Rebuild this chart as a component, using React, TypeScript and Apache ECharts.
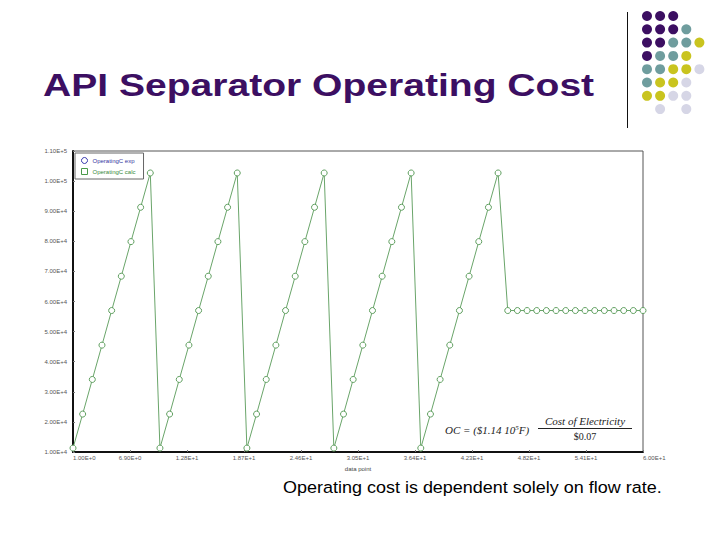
import React, { useEffect, useRef } from "react";
import * as echarts from "echarts";

const TITLE = "API Separator Operating Cost";
const CAPTION = "Operating cost is dependent solely on flow rate.";
const SERIES_EXP = "OperatingC exp";
const SERIES_CALC = "OperatingC calc";

// data point numbers 1..60
const DATA_POINTS = [
  1, 2, 3, 4, 5, 6, 7, 8, 9, 10, 11, 12, 13, 14, 15, 16, 17, 18, 19, 20,
  21, 22, 23, 24, 25, 26, 27, 28, 29, 30, 31, 32, 33, 34, 35, 36, 37, 38, 39, 40,
  41, 42, 43, 44, 45, 46, 47, 48, 49, 50, 51, 52, 53, 54, 55, 56, 57, 58, 59, 60,
];

// Operating cost (calc)
const COST_CALC = [
  11300, 22600, 34100, 45500, 57000, 68400, 79900, 91300, 102700,
  11300, 22600, 34100, 45500, 57000, 68400, 79900, 91300, 102700,
  11300, 22600, 34100, 45500, 57000, 68400, 79900, 91300, 102700,
  11300, 22600, 34100, 45500, 57000, 68400, 79900, 91300, 102700,
  11300, 22600, 34100, 45500, 57000, 68400, 79900, 91300, 102700,
  57000, 57000, 57000, 57000, 57000, 57000, 57000, 57000, 57000, 57000,
  57000, 57000, 57000, 57000, 57000,
];

// experimental series: no visible points in the picture
const COST_EXP: number[] = [];

const X_TICKS = [1, 6.9, 12.8, 18.7, 24.6, 30.5, 36.4, 42.3, 48.2, 54.1, 60];
const Y_MIN = 10000;
const Y_MAX = 110000;
const Y_STEP = 10000;

const PURPLE = "#3c0f62";
const TEAL = "#6f9d9e";
const YELLOW = "#c9c41f";
const LAV = "#d6d6e6";

// decorative dot pattern (rows of colours)
const DOT_ROWS: (string | null)[][] = [
  [PURPLE, PURPLE, PURPLE, null, null],
  [PURPLE, PURPLE, PURPLE, TEAL, null],
  [PURPLE, PURPLE, TEAL, TEAL, YELLOW],
  [PURPLE, TEAL, TEAL, YELLOW, null],
  [TEAL, TEAL, YELLOW, YELLOW, LAV],
  [TEAL, YELLOW, YELLOW, LAV, null],
  [YELLOW, YELLOW, LAV, LAV, null],
  [null, LAV, null, LAV, null],
];

const fmt = (v: number) => v.toExponential(2).toUpperCase();

export default function App() {
  const ref = useRef<HTMLDivElement>(null);

  useEffect(() => {
    if (!ref.current) return;
    const chart = echarts.init(ref.current, null, { renderer: "svg" });

    const dots: any[] = [];
    DOT_ROWS.forEach((row, r) =>
      row.forEach((c, k) => {
        if (!c) return;
        dots.push({
          type: "circle",
          shape: { cx: 647 + k * 13.1, cy: 16 + r * 13.3, r: 5 },
          style: { fill: c },
          silent: true,
        });
      })
    );

    const serif = "'Liberation Serif', 'DejaVu Serif', serif";

    chart.setOption({
      animation: false,
      backgroundColor: "#ffffff",
      grid: {
        left: 73,
        right: 77,
        top: 151,
        bottom: 88,
        show: true,
        borderColor: "#555",
        borderWidth: 1,
        backgroundColor: "transparent",
      },
      legend: {
        orient: "vertical",
        left: 75,
        top: 153,
        padding: [4, 8, 4, 6],
        borderColor: "#666",
        borderWidth: 1,
        itemWidth: 6,
        itemHeight: 6,
        itemGap: 4,
        textStyle: { fontSize: 6, fontFamily: "Arial, 'Liberation Sans', sans-serif" },
        data: [
          {
            name: SERIES_EXP,
            icon: "circle",
            itemStyle: { color: "#fff", borderColor: "#3b3bb0", borderWidth: 1 },
            textStyle: { color: "#3535a0" },
          },
          {
            name: SERIES_CALC,
            icon: "rect",
            itemStyle: { color: "#fff", borderColor: "#4a9a4a", borderWidth: 1 },
            textStyle: { color: "#3a8a3a" },
          },
        ],
      },
      xAxis: {
        type: "value",
        min: 1,
        max: 60,
        name: "data point",
        nameLocation: "middle",
        nameGap: 9,
        nameTextStyle: { fontSize: 6, color: "#444", padding: [0, 0, 0, 0] },
        axisLine: { show: true, lineStyle: { color: "#111", width: 2 } },
        axisTick: {
          show: true,
          inside: true,
          length: 2,
          customValues: X_TICKS,
          lineStyle: { color: "#777" },
        },
        axisLabel: {
          customValues: X_TICKS,
          formatter: (v: number) => fmt(v),
          fontSize: 6,
          color: "#555",
          margin: 3,
          alignMinLabel: "left",
          alignMaxLabel: "left",
        },
        splitLine: { show: false },
      },
      yAxis: {
        type: "value",
        min: Y_MIN,
        max: Y_MAX,
        interval: Y_STEP,
        axisLine: { show: true, lineStyle: { color: "#111", width: 2 } },
        axisTick: { show: true, inside: true, length: 2, lineStyle: { color: "#777" } },
        axisLabel: {
          formatter: (v: number) => fmt(v),
          fontSize: 6,
          color: "#555",
          margin: 6,
        },
        splitLine: { show: false },
      },
      series: [
        {
          name: SERIES_EXP,
          type: "line",
          data: COST_EXP,
          symbol: "emptyCircle",
          itemStyle: { color: "#3b3bb0" },
          lineStyle: { width: 0 },
        },
        {
          name: SERIES_CALC,
          type: "line",
          data: DATA_POINTS.map((x, i) => [x, COST_CALC[i]]),
          symbol: "circle",
          symbolSize: 6,
          showAllSymbol: true,
          itemStyle: { color: "#ffffff", borderColor: "#5f9f5f", borderWidth: 1 },
          lineStyle: { color: "#6aa56a", width: 1 },
          z: 3,
        },
      ],
      graphic: [
        {
          type: "text",
          x: 43,
          y: 70,
          scaleX: 1.26,
          style: {
            text: TITLE,
            fill: "#3c0f62",
            font: "bold 31px Arial, 'Liberation Sans', sans-serif",
            verticalAlign: "top",
            align: "left",
          },
        },
        {
          type: "line",
          shape: { x1: 627.5, y1: 12, x2: 627.5, y2: 128 },
          style: { stroke: "#111", lineWidth: 1 },
        },
        ...dots,
        {
          type: "text",
          x: 445,
          y: 430,
          style: {
            text: "OC = ($1.14 10{s|5}F)",
            rich: { s: { fontSize: 7, verticalAlign: "top", fontStyle: "italic", fontFamily: serif, padding: [0, 0, 5, 0] } },
            fill: "#222",
            fontSize: 11,
            fontStyle: "italic",
            fontFamily: serif,
            verticalAlign: "middle",
            align: "left",
          },
          z: 10,
        },
        {
          type: "text",
          x: 585,
          y: 421,
          style: {
            text: "Cost of Electricity",
            fill: "#222",
            fontSize: 11,
            fontStyle: "italic",
            fontFamily: serif,
            verticalAlign: "middle",
            align: "center",
          },
          z: 10,
        },
        {
          type: "line",
          shape: { x1: 538, y1: 428.5, x2: 632, y2: 428.5 },
          style: { stroke: "#222", lineWidth: 1 },
          z: 10,
        },
        {
          type: "text",
          x: 585,
          y: 436,
          style: {
            text: "$0.07",
            fill: "#222",
            fontSize: 10,
            fontFamily: serif,
            verticalAlign: "middle",
            align: "center",
          },
          z: 10,
        },
        {
          type: "text",
          x: 283,
          y: 479,
          scaleX: 1.09,
          style: {
            text: CAPTION,
            fill: "#000",
            font: "16.5px Arial, 'Liberation Sans', sans-serif",
            verticalAlign: "top",
            align: "left",
          },
        },
      ],
    });

    return () => chart.dispose();
  }, []);

  return (
    <div
      ref={ref}
      style={{ position: "fixed", left: 0, top: 0, width: 720, height: 540, background: "#fff" }}
    />
  );
}
